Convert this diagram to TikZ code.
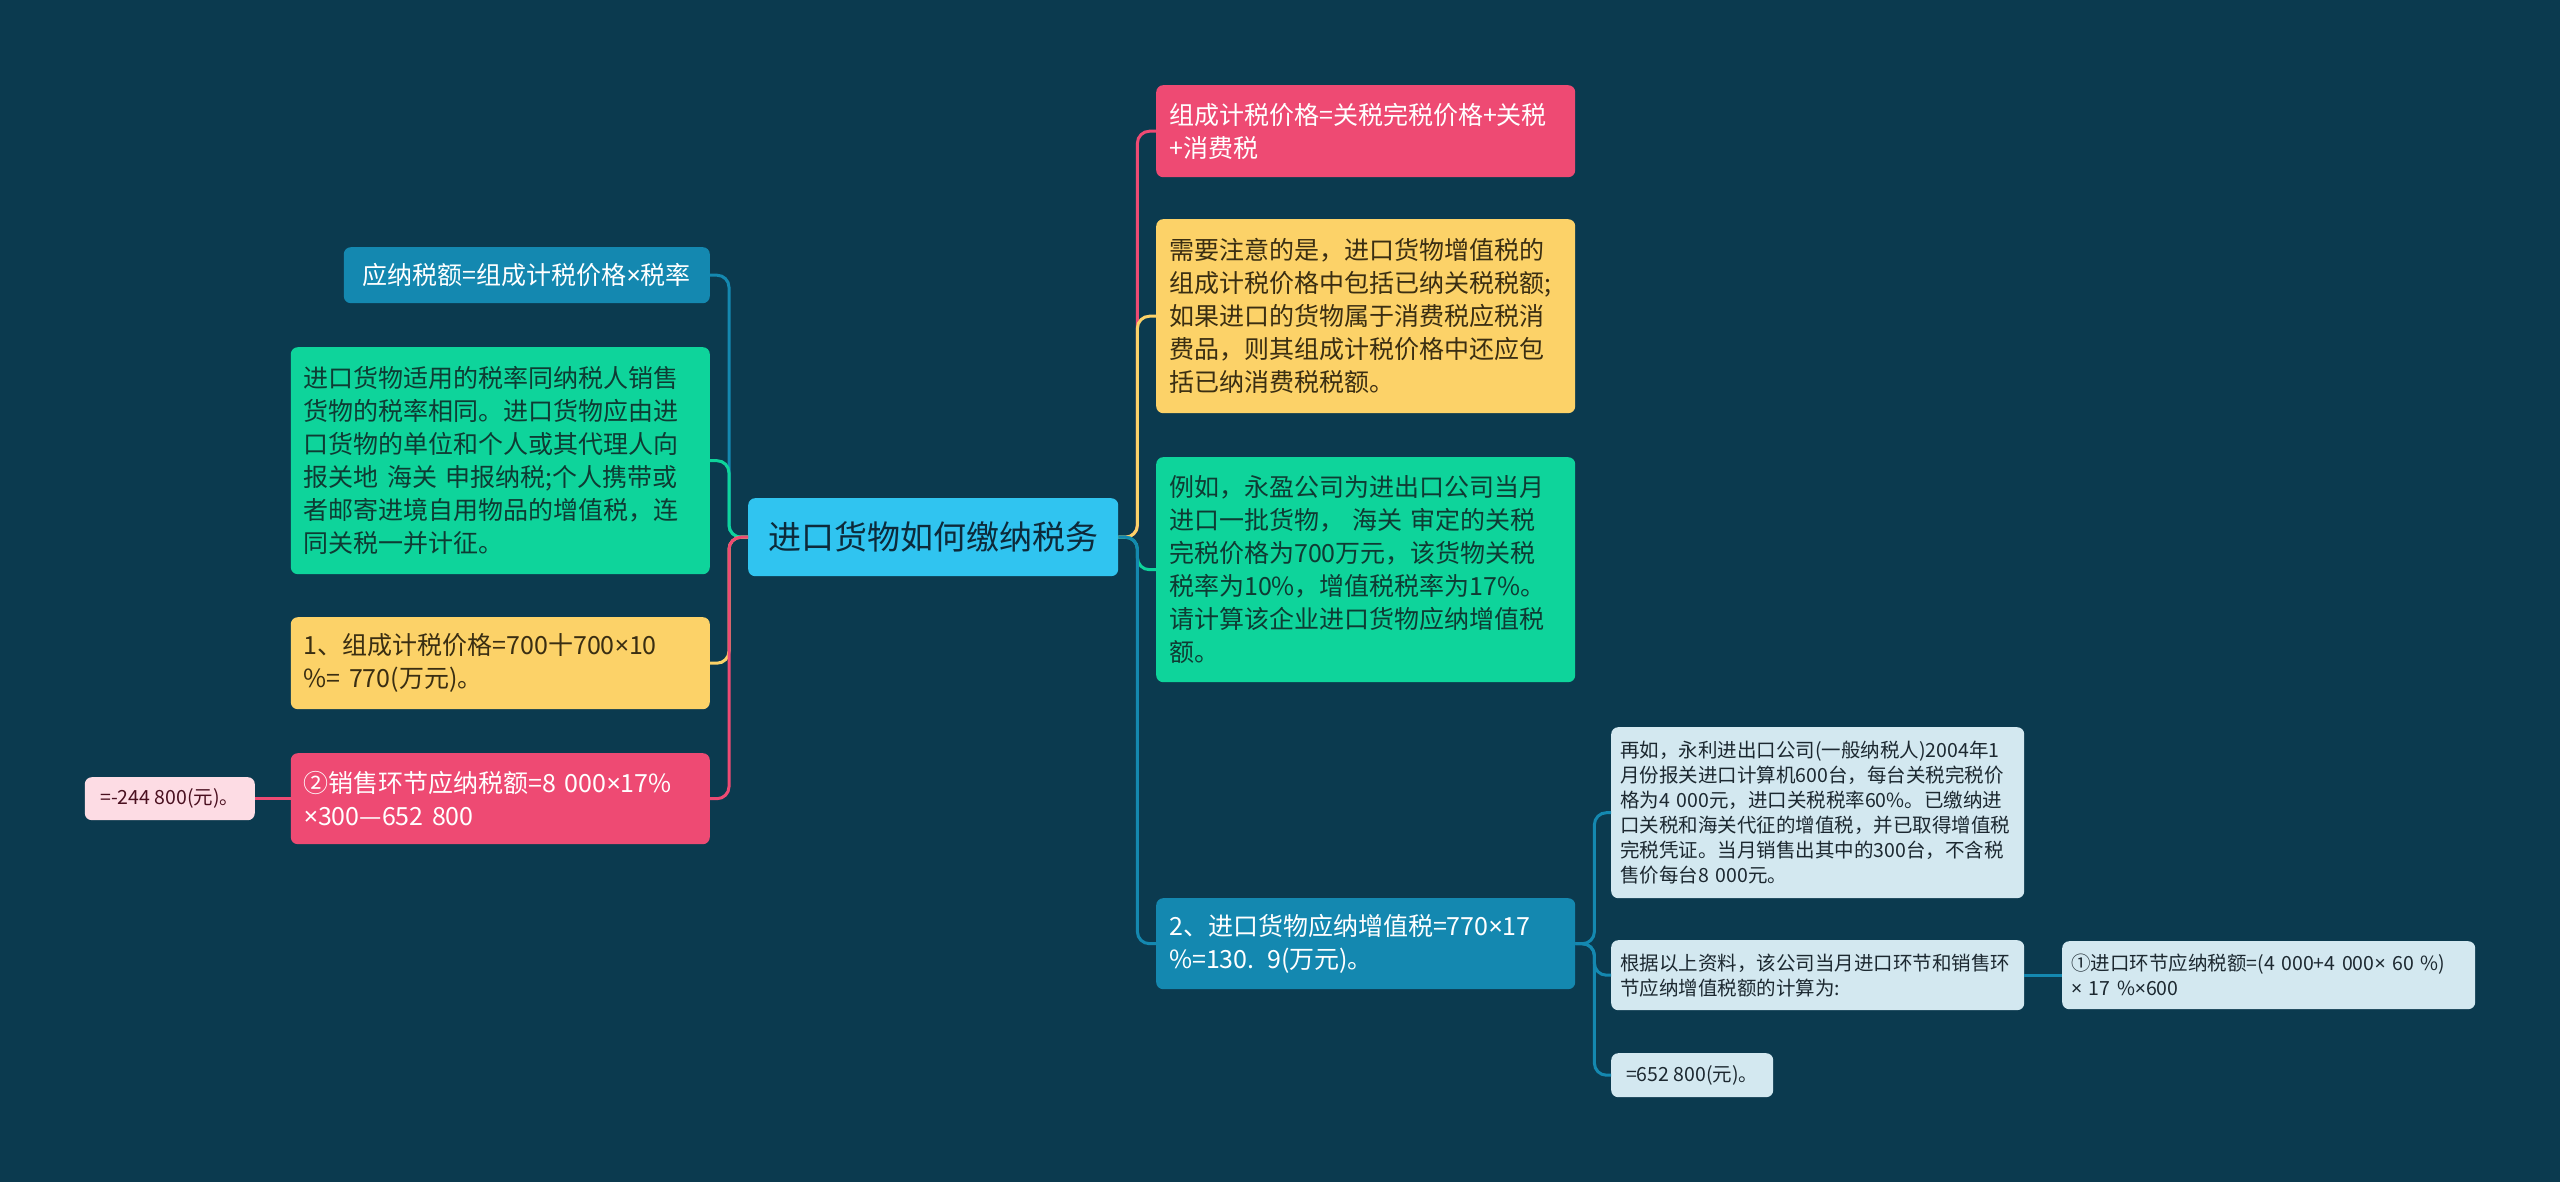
\documentclass[tikz,border=0pt]{standalone}
\usepackage{fontspec}
\setmainfont{Noto Sans CJK SC}
\newfontfamily\latinfont{Noto Sans}
\newcommand{\mul}{{\latinfont ×}}
\usepackage{tikz}
\usepackage{xcolor}
\definecolor{bgc}{RGB}{11,58,79}
\definecolor{pinkc}{RGB}{238,74,115}
\definecolor{yellowc}{RGB}{252,210,104}
\definecolor{greenc}{RGB}{14,212,155}
\definecolor{bluec}{RGB}{20,136,176}
\definecolor{cyanc}{RGB}{48,196,240}
\definecolor{lightc}{RGB}{211,232,240}
\definecolor{lpinkc}{RGB}{253,220,228}
\definecolor{darkc}{RGB}{28,40,48}
\definecolor{browntxt}{RGB}{58,46,18}
\definecolor{greentxt}{RGB}{14,59,51}
\definecolor{navytxt}{RGB}{13,42,58}
\definecolor{maroontxt}{RGB}{74,16,32}

\begin{document}
\begin{tikzpicture}[x=1pt,y=-1pt,
  box/.style={rounded corners=7pt, anchor=north west, inner xsep=13pt, inner ysep=8pt,
    align=left, font=\fontsize{25}{33}\selectfont},
  wide/.style={box, text width=393pt},
  small/.style={box, inner xsep=9pt, font=\fontsize{19.5}{25}\selectfont, text=darkc, fill=lightc},
  link/.style={line width=3pt, rounded corners=12pt}]
\useasboundingbox (0,0) rectangle (2560,1182);
\fill[bgc] (0,0) rectangle (2560,1182);

% centre
\node[box, fill=cyanc, text=navytxt, minimum width=370pt, minimum height=78pt, align=center,
  font=\fontsize{33}{40}\selectfont] (ctr) at (748,498) {进口货物如何缴纳税务};

% right side
\node[wide, fill=pinkc, text=white, minimum height=92pt] (r1) at (1156,85)
  {组成计税价格=关税完税价格+关税\\+消费税};
\node[wide, fill=yellowc, text=browntxt, minimum height=194pt] (r2) at (1156,219)
  {需要注意的是，进口货物增值税的\\组成计税价格中包括已纳关税税额;\\如果进口的货物属于消费税应税消\\费品，则其组成计税价格中还应包\\括已纳消费税税额。};
\node[wide, fill=greenc, text=greentxt, minimum height=225pt] (r3) at (1156,457)
  {例如，永盈公司为进出口公司当月\\进口一批货物， 海关 审定的关税\\完税价格为700万元，该货物关税\\税率为10\%，增值税税率为17\%。\\请计算该企业进口货物应纳增值税\\额。};
\node[wide, fill=bluec, text=white, minimum height=91pt] (r4) at (1156,898)
  {2、进口货物应纳增值税=770\mul17\\\%=130. 9(万元)。};

% sub nodes of r4
\node[small, text width=395pt, minimum height=171pt] (s1) at (1611,727)
  {再如，永利进出口公司(一般纳税人)2004年1\\月份报关进口计算机600台，每台关税完税价\\格为4 000元，进口关税税率60\%。已缴纳进\\口关税和海关代征的增值税，并已取得增值税\\完税凭证。当月销售出其中的300台，不含税\\售价每台8 000元。};
\node[small, text width=395pt, minimum height=70pt] (s2) at (1611,940)
  {根据以上资料，该公司当月进口环节和销售环\\节应纳增值税额的计算为:};
\node[small, minimum width=162pt, minimum height=44pt] (s3) at (1611,1053) {=652 800(元)。};
\node[small, text width=395pt, minimum height=68pt] (s2c) at (2062,941)
  {①进口环节应纳税额=(4 000+4 000\mul{} 60 \%)\\ \mul{} 17 \%\mul600};

% left side
\node[box, anchor=north east, fill=bluec, text=white, minimum width=366pt, minimum height=56pt] (l1) at (710,247)
  {应纳税额=组成计税价格\mul{}税率};
\node[wide, anchor=north east, fill=greenc, text=greentxt, minimum height=227pt] (l2) at (710,347)
  {进口货物适用的税率同纳税人销售\\货物的税率相同。进口货物应由进\\口货物的单位和个人或其代理人向\\报关地 海关 申报纳税;个人携带或\\者邮寄进境自用物品的增值税，连\\同关税一并计征。};
\node[wide, anchor=north east, fill=yellowc, text=browntxt, minimum height=92pt] (l3) at (710,617)
  {1、组成计税价格=700十700\mul10\\\%= 770(万元)。};
\node[wide, anchor=north east, fill=pinkc, text=white, minimum height=91pt] (l4) at (710,753)
  {②销售环节应纳税额=8 000\mul17\%\\\mul300—652 800};
\node[small, anchor=north east, fill=lpinkc, text=maroontxt, minimum width=170pt, minimum height=43pt] (l4c) at (255,777)
  {=-244 800(元)。};

% connectors
\draw[link, pinkc] (ctr.east) -- ++(19,0) |- (r1.west);
\draw[link, yellowc] (ctr.east) -- ++(19,0) |- (r2.west);
\draw[link, greenc] (ctr.east) -- ++(19,0) |- (r3.west);
\draw[link, bluec] (ctr.east) -- ++(19,0) |- (r4.west);
\draw[link, bluec] (r4.east) -- ++(19,0) |- (s1.west);
\draw[link, bluec] (r4.east) -- ++(19,0) |- (s2.west);
\draw[link, bluec] (r4.east) -- ++(19,0) |- (s3.west);
\draw[link, bluec] (s2.east) -- (s2c.west);
\draw[link, bluec] (ctr.west) -- ++(-19,0) |- (l1.east);
\draw[link, greenc] (ctr.west) -- ++(-19,0) |- (l2.east);
\draw[link, yellowc] (ctr.west) -- ++(-19,0) |- (l3.east);
\draw[link, pinkc] (ctr.west) -- ++(-19,0) |- (l4.east);
\draw[link, pinkc] (l4.west) -- (l4c.east);
\end{tikzpicture}
\end{document}
